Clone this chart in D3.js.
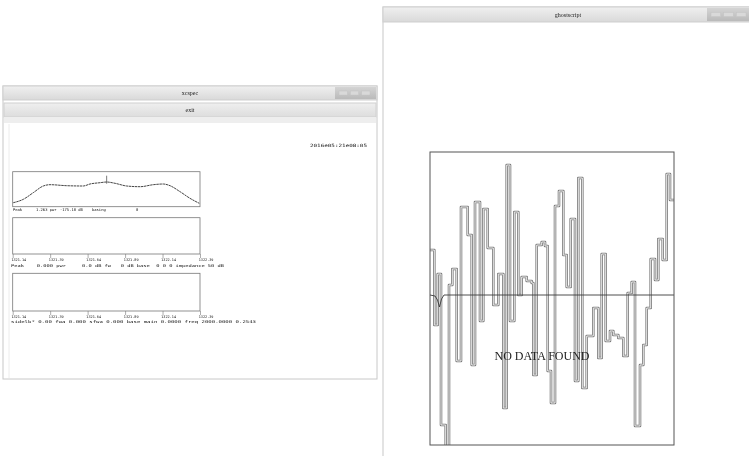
<!DOCTYPE html>
<html><head><meta charset="utf-8">
<script src="https://cdn.jsdelivr.net/npm/d3@7"></script>
<style>
html,body{margin:0;padding:0;background:#fff;}
svg{display:block;filter:blur(0.35px);will-change:transform;}
text{-webkit-font-smoothing:antialiased;}
</style></head>
<body>
<svg id="c" width="749" height="456"></svg>
<script>
// ---------- data ----------
// left window (xcspec) : spectrum panel
const specFreq = [1321.144,1321.211,1321.277,1321.344,1321.389,1321.50,1321.611,1321.656,1321.723,1321.767,1321.823,1321.901,1321.99,1322.078,1322.145,1322.19,1322.257,1322.323,1322.385];
const specPower = [4,7.4,14,20.7,22,21,20.7,22.7,24,24.7,23.4,20.7,20,22,22.7,21,15,8.4,3.4];
const peakFreq = 1321.767;
const freqTicks = [1321.14,1321.39,1321.64,1321.89,1322.14,1322.39];
const freqTickLabels = ["1321.14","1321.39","1321.64","1321.89","1322.14","1322.39"];
const infoLine1 = ["Peak","1.263 pwr","-175.10 dB","basing","0"];
const infoLine2 = "Peak    0.000 pwr     0.0 dB fw   0 dB base  0 0 0 impedance 50 dB";
const infoLine3 = "sidelb* 0.00 fwa 0.000 sfwa 0.000 base main 0.0000 freq 2000.0000 0.2543";
const timeStamp = "2016e05:21e08:05";
const leftTitle = "xcspec";
const leftButton = "exit";
// right window (ghostscript) : stepped trace
const rightTitle = "ghostscript";
const stepT = [0,4.3,7.7,11,15.7,19,22.3,26.7,31,37.7,41.7,45,50,53.3,57.7,63.3,68.3,73.3,76.7,80,84.3,88.3,91.7,96.7,101.7,103.3,106.7,111.7,115,117.7,121,125,129,133.3,136.7,140.7,145,148.3,152.3,156.7,163.3,168.3,171.7,175.7,180,183.3,188.3,193.3,197.7,201.7,205,210,213.3,216.7,220.7,225,228.3,232.7,236.7,240,244];
const stepV = [45,-30,21,-130,-160,10,26,-66,88,60,-70,93,-26,86,47,-10,21,-113,130,-26,83,0,18,14,12,-80,50,53,49,-76,-108,89,104,40,8,76,-86,117,-93,-41,-13,-63,41,-46,-36,-40,-43,-61,2,13,-131,-70,-50,-13,36,15,56,35,121,95,95];
const meanT = [0,5,7.5,9.5,11.5,14,244];
const meanV = [0,-1,-5,-12,-4,0,0];
const noDataText = "NO DATA FOUND";

// ---------- drawing ----------
const svg = d3.select("#c");
const defs = svg.append("defs");
function grad(id, c1, c2){
  const g = defs.append("linearGradient").attr("id",id).attr("x1",0).attr("x2",0).attr("y1",0).attr("y2",1);
  g.append("stop").attr("offset","0%").attr("stop-color",c1);
  g.append("stop").attr("offset","100%").attr("stop-color",c2);
}
grad("tb","#f0f0f0","#d9d9d9");
grad("bb","#efefef","#dddddd");
grad("btn","#d4d4d4","#bababa");

function titleBar(x,y,w,h,label,btnW){
  svg.append("rect").attr("x",x).attr("y",y).attr("width",w).attr("height",h).attr("fill","url(#tb)").attr("stroke","#cfcfcf");
  svg.append("text").attr("x",x+w/2).attr("y",y+h/2+2).attr("text-anchor","middle")
    .attr("font-family","Liberation Serif, serif").attr("font-size",6).attr("fill","#222").text(label);
  const bx = x+w-btnW;
  svg.append("rect").attr("x",bx).attr("y",y+1).attr("width",btnW-1).attr("height",h-2).attr("fill","url(#btn)");
  for(let i=0;i<3;i++){
    svg.append("rect").attr("x",bx+4+i*(btnW-8)/3).attr("y",y+h/2-2).attr("width",(btnW-8)/3-3).attr("height",4)
      .attr("fill","#d9d9d9").attr("stroke","#c4c4c4").attr("stroke-width",0.5);
  }
}

// ===== left window =====
const L = {x:3,y:86,w:374,h:293};
svg.append("rect").attr("x",L.x).attr("y",L.y).attr("width",L.w).attr("height",L.h).attr("fill","#fff").attr("stroke","#c8c8c8");
titleBar(L.x,L.y,L.w,14,leftTitle,42);
svg.append("rect").attr("x",L.x+1).attr("y",103).attr("width",L.w-2).attr("height",14).attr("fill","url(#bb)").attr("stroke","#d0d0d0");
svg.append("text").attr("x",L.x+L.w/2).attr("y",112).attr("text-anchor","middle")
  .attr("font-family","Liberation Serif, serif").attr("font-size",6).attr("fill","#222").text(leftButton);
svg.append("rect").attr("x",L.x+1).attr("y",117).attr("width",L.w-2).attr("height",6).attr("fill","#eeeeee");
svg.append("line").attr("x1",L.x+6).attr("x2",L.x+6).attr("y1",124).attr("y2",L.y+L.h-1).attr("stroke","#ececec");

const mono = "DejaVu Sans Mono, monospace";
const tiny = "#111";
svg.append("text").attr("x",310).attr("y",147).attr("textLength",57).attr("lengthAdjust","spacingAndGlyphs")
  .attr("font-family",mono).attr("font-size",4.4).attr("fill",tiny).text(timeStamp);

const fx = d3.scaleLinear().domain([freqTicks[0], freqTicks[freqTicks.length-1]]).range([12.7,200]);
const py = d3.scaleLinear().domain([0,35]).range([206.7,171.7]);

// panel 1
svg.append("rect").attr("x",fx.range()[0]).attr("y",171.7).attr("width",fx.range()[1]-fx.range()[0]).attr("height",35).attr("fill","none").attr("stroke","#777").attr("stroke-width",0.8);
svg.append("path").datum(specFreq.map((f,i)=>[f,specPower[i]]))
  .attr("d",d3.line().x(d=>fx(d[0])).y(d=>py(d[1])).curve(d3.curveMonotoneX))
  .attr("fill","none").attr("stroke","#444").attr("stroke-width",1).attr("stroke-dasharray","2.5,0.6");
svg.append("line").attr("x1",fx(peakFreq)).attr("x2",fx(peakFreq)).attr("y1",py(31)).attr("y2",py(23)).attr("stroke","#444").attr("stroke-width",0.7);

const l1x = [13,36,60,92,136];
infoLine1.forEach((t,i)=>svg.append("text").attr("x",l1x[i]).attr("y",211).attr("font-family",mono).attr("font-size",3.8).attr("fill",tiny).text(t));

// panels 2 and 3
function emptyPanel(top,h,labelLine,lineY,lineLen){
  svg.append("rect").attr("x",fx.range()[0]).attr("y",top).attr("width",fx.range()[1]-fx.range()[0]).attr("height",h).attr("fill","none").attr("stroke","#777").attr("stroke-width",0.8);
  const ax = d3.axisBottom(fx).tickValues(freqTicks).tickFormat((d,i)=>freqTickLabels[i]).tickSize(4).tickPadding(0.3);
  const g = svg.append("g").attr("transform",`translate(0,${top+h})`).call(ax);
  g.select(".domain").remove();
  g.selectAll(".tick line").attr("stroke","#777").attr("stroke-width",0.6);
  g.selectAll(".tick text").attr("font-family",mono).attr("font-size",3.5).attr("fill",tiny)
    .attr("text-anchor","start").attr("dx",-1.8);
  svg.append("text").attr("x",11).attr("y",lineY).attr("font-family",mono).attr("font-size",3.8).attr("fill",tiny)
    .attr("textLength",lineLen).attr("lengthAdjust","spacingAndGlyphs").style("white-space","pre").text(labelLine);
}
emptyPanel(217.7,36.3,infoLine2,266.5,213);
emptyPanel(273.3,37.7,infoLine3,322.5,245);

// ===== right window =====
const R = {x:383,y:7,w:370,h:455};
svg.append("rect").attr("x",R.x).attr("y",R.y).attr("width",R.w).attr("height",R.h).attr("fill","#fff").attr("stroke","#c8c8c8");
titleBar(R.x,R.y,R.w,15,rightTitle,46);

const tx = d3.scaleLinear().domain([0,244]).range([430,674]);
const vy = d3.scaleLinear().domain([-150,143]).range([445,152]);
defs.append("clipPath").attr("id","fr").append("rect").attr("x",430).attr("y",152).attr("width",244).attr("height",293);

const stepLine = d3.line().x(d=>tx(d[0])).y(d=>vy(d[1])).curve(d3.curveStepAfter);
const stepData = stepT.map((t,i)=>[t,stepV[i]]);
const g = svg.append("g").attr("clip-path","url(#fr)");
g.append("path").datum(stepData).attr("d",stepLine).attr("fill","none").attr("stroke","#7a7a7a").attr("stroke-width",2.6).attr("stroke-linejoin","round");
g.append("path").datum(stepData).attr("d",stepLine).attr("fill","none").attr("stroke","#eeeeee").attr("stroke-width",1.0).attr("stroke-linejoin","round");
g.append("path").datum(meanT.map((t,i)=>[t,meanV[i]])).attr("d",d3.line().x(d=>tx(d[0])).y(d=>vy(d[1])))
  .attr("fill","none").attr("stroke","#3a3a3a").attr("stroke-width",0.9);
svg.append("rect").attr("x",430).attr("y",152).attr("width",244).attr("height",293).attr("fill","none").attr("stroke","#555").attr("stroke-width",1);

svg.append("text").attr("x",542).attr("y",360).attr("text-anchor","middle")
  .attr("font-family","Liberation Serif, Times New Roman, serif").attr("font-size",12).attr("fill","#222").text(noDataText);
</script>
</body></html>
